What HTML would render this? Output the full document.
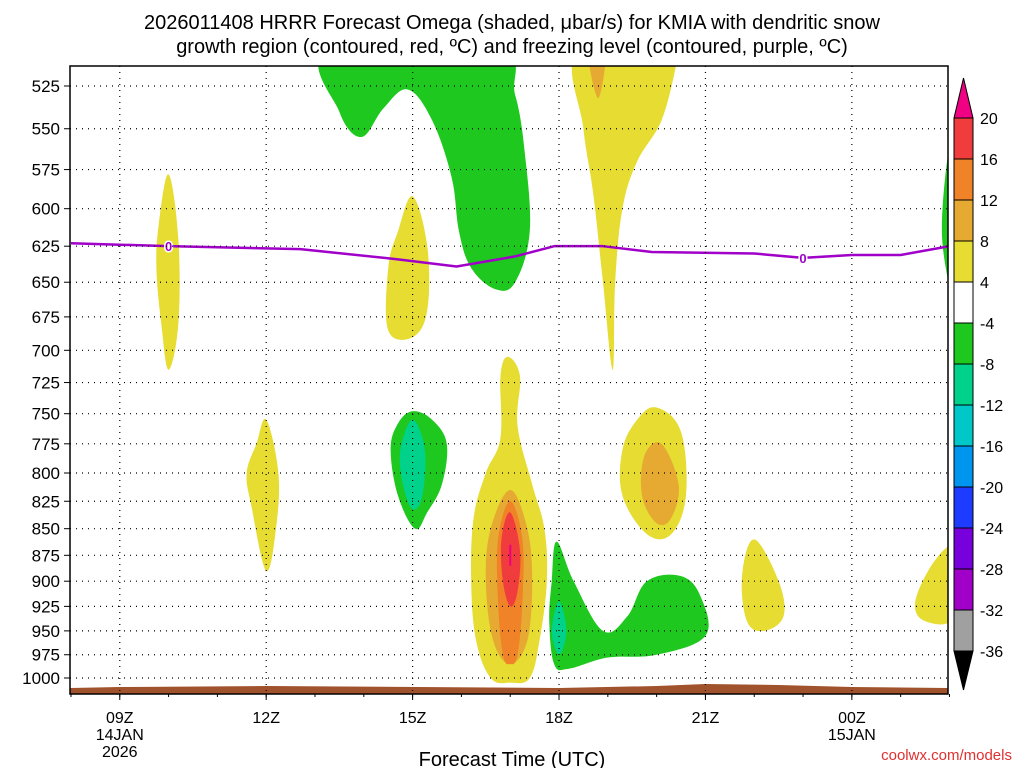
<!DOCTYPE html>
<html><head><meta charset="utf-8"><style>
html,body{margin:0;padding:0;background:#fff}
svg{display:block;font-family:"Liberation Sans",sans-serif}
</style></head><body>
<svg id="c" width="1024" height="768">
<text x="512" y="29" text-anchor="middle" font-size="20">2026011408 HRRR Forecast Omega (shaded, μbar/s) for KMIA with dendritic snow</text>
<text x="512" y="53" text-anchor="middle" font-size="20">growth region (contoured, red, ºC) and freezing level (contoured, purple, ºC)</text>
<g id="plot"></g>
<rect x="70" y="66" width="878" height="628" fill="none" stroke="#000" stroke-width="1.5"/>
<text x="512" y="766" text-anchor="middle" font-size="20">Forecast Time (UTC)</text>
<text x="1012" y="760" text-anchor="end" font-size="15" fill="#e03030">coolwx.com/models</text>
</svg>
<script>
const pressureTicks=[525,550,575,600,625,650,675,700,725,750,775,800,825,850,875,900,925,950,975,1000];
const timeTicks=[1,4,7,10,13,16];
const timeLabels=[["09Z","14JAN","2026"],["12Z"],["15Z"],["18Z"],["21Z"],["00Z","15JAN"]];
const cbLevels=[20,16,12,8,4,-4,-8,-12,-16,-20,-24,-28,-32,-36];
const cbColors=["#f03c3c","#f08228","#e6aa32","#e6dc32","#ffffff","#1ec81e","#00d28c","#00c8c8","#0096f0","#1e3cff","#7800dc","#a000c8","#a0a0a0"];
const freezeHours=[0,2,4.7,6.7,7.9,9.1,9.9,10.9,11.9,14,15,16,17,18];
const freezePress=[623,625,627,634,639,632,625,625,629,630,633,631,631,625];
const freezeLabelHours=[2,15];
const blobs=[
{c:3,n:"yellow-10z",p:[[2.0,578],[2.2,620],[2.2,680],[2.0,715],[1.85,680],[1.75,640],[1.8,610]]},
{c:3,n:"yellow-12z",p:[[4.0,755],[4.25,800],[4.2,850],[4.0,890],[3.7,830],[3.6,800],[3.8,775]]},
{c:3,n:"yellow-15z-upper",p:[[7.0,592],[7.3,625],[7.3,670],[7.0,690],[6.5,685],[6.5,640],[6.7,615]]},
{c:5,n:"green-upper",p:[[5.3,505],[5.5,540],[5.95,555],[6.4,538],[6.9,527],[7.4,545],[7.8,580],[7.95,615],[8.2,640],[8.7,655],[9.1,650],[9.4,615],[9.3,565],[9.1,530],[8.7,505]]},
{c:3,n:"yellow-19z-upper",p:[[10.4,505],[10.5,550],[10.7,590],[10.9,650],[11.1,715],[11.15,650],[11.3,600],[11.6,570],[12.1,545],[12.4,513],[12.4,505]]},
{c:2,n:"gold-19z-top",p:[[10.6,505],[10.95,505],[10.8,532]]},
{c:5,n:"green-15z",p:[[7.0,748],[7.4,755],[7.7,775],[7.6,810],[7.3,835],[7.05,850],[6.7,820],[6.55,780],[6.7,758]]},
{c:6,n:"teal-15z",p:[[7.0,755],[7.25,780],[7.2,820],[7.0,832],[6.8,810],[6.75,780]]},
{c:3,n:"yellow-17z",p:[[8.95,705],[9.2,720],[9.15,760],[9.45,810],[9.7,850],[9.75,900],[9.6,960],[9.4,1000],[9.0,1005],[8.6,1000],[8.3,960],[8.2,900],[8.25,840],[8.5,800],[8.8,770],[8.8,720]]},
{c:2,n:"gold-17z",p:[[9.0,815],[9.35,850],[9.45,900],[9.35,960],[9.0,985],[8.65,960],[8.5,900],[8.6,850]]},
{c:1,n:"orange-17z",p:[[9.0,825],[9.25,860],[9.25,920],[9.15,975],[9.0,985],[8.85,975],[8.75,920],[8.75,860]]},
{c:0,n:"red-17z",p:[[9.0,835],[9.2,870],[9.15,910],[9.0,925],[8.85,900],[8.82,860]]},
{c:5,n:"green-18z-21z",p:[[9.95,862],[10.3,900],[10.9,950],[11.4,935],[11.8,900],[12.5,895],[12.9,915],[13.0,955],[12.0,975],[11.0,978],[10.2,990],[9.9,985],[9.8,940],[9.85,900]]},
{c:6,n:"teal-18z",p:[[10.0,920],[10.15,950],[10.0,975],[9.85,950]]},
{c:3,n:"yellow-20z",p:[[12.0,745],[12.5,765],[12.6,820],[12.3,855],[11.8,855],[11.3,820],[11.3,780],[11.6,755]]},
{c:2,n:"gold-20z",p:[[12.1,775],[12.45,810],[12.3,840],[12.0,845],[11.7,820],[11.75,785]]},
{c:3,n:"yellow-22z",p:[[14.0,860],[14.5,900],[14.6,935],[14.2,950],[13.85,940],[13.75,895]]},
{c:3,n:"yellow-02z",p:[[17.5,940],[17.3,920],[17.7,880],[18.1,870],[18.1,935]]},
{c:5,n:"green-02z",p:[[17.95,570],[18.1,560],[18.1,655],[17.85,620]]}
];
const NS="http://www.w3.org/2000/svg";
const X0=70,X1=948,H0=-0.02,H1=17.97;
function xS(h){return X0+(h-H0)/(H1-H0)*(X1-X0);}
function yS(p){return 86+Math.log(p/525)/Math.log(1000/525)*592;}
const svg=document.getElementById('c'),plot=document.getElementById('plot');
function mk(t,a,par){const e=document.createElementNS(NS,t);for(const k in a)e.setAttribute(k,a[k]);(par||plot).appendChild(e);return e;}
function smooth(pts){
 const n=pts.length;let d='M'+pts[0][0]+','+pts[0][1];
 for(let i=0;i<n;i++){
  const p0=pts[(i-1+n)%n],p1=pts[i],p2=pts[(i+1)%n],p3=pts[(i+2)%n];
  const t=0.18;
  d+=` C${p1[0]+(p2[0]-p0[0])*t},${p1[1]+(p2[1]-p0[1])*t} ${p2[0]-(p3[0]-p1[0])*t},${p2[1]-(p3[1]-p1[1])*t} ${p2[0]},${p2[1]}`;
 }
 return d+'Z';
}
const clip=mk('clipPath',{id:'pc'},svg);mk('rect',{x:70,y:66,width:878,height:628},clip);
const g=mk('g',{'clip-path':'url(#pc)'});
blobs.forEach(b=>{
 const e=mk('path',{d:smooth(b.p.map(q=>[xS(q[0]),yS(q[1])])),fill:cbColors[b.c]},g);
 
 
});
const pk=mk('line',{x1:xS(9),x2:xS(9),y1:yS(865),y2:yS(885),stroke:'#f00082','stroke-width':2},g);


const terr=mk('path',{d:`M70,688 L${xS(1)},687 L${xS(4)},686 L${xS(10)},688 L${xS(12)},686 L${xS(13)},684 L${xS(14.5)},685 L${xS(16)},687 L948,688 L948,694 L70,694Z`,fill:'#a0522d'},g);


pressureTicks.forEach(p=>{
 const y=yS(p);
 const l=mk('line',{x1:70,x2:948,y1:y,y2:y,stroke:'#000','stroke-dasharray':'1,5','stroke-width':1.2});
 
 
 mk('line',{x1:70,x2:64,y1:y,y2:y,stroke:'#000'});
 const t=mk('text',{x:60,y:y+6,'text-anchor':'end','font-size':17});t.textContent=p;
 
 
});
timeTicks.forEach((h,i)=>{
 const x=xS(h);
 const l=mk('line',{x1:x,x2:x,y1:66,y2:694,stroke:'#000','stroke-dasharray':'1,5','stroke-width':1.2});
 
 
 mk('line',{x1:x,x2:x,y1:694,y2:700,stroke:'#000'});
 timeLabels[i].forEach((s,j)=>{const t=mk('text',{x:x,y:723+j*17,'text-anchor':'middle','font-size':16});t.textContent=s;
 
 });
});
for(let h=0;h<=18;h++){const x=xS(h);mk('line',{x1:x,x2:x,y1:694,y2:697,stroke:'#000'});}
const fl=mk('polyline',{points:freezeHours.map((h,i)=>xS(h)+','+yS(freezePress[i])).join(' '),fill:'none',stroke:'#a000c8','stroke-width':2.5,'stroke-linejoin':'round'},g);


freezeLabelHours.forEach(h=>{
 let k=0;while(k<freezeHours.length-2&&freezeHours[k+1]<h)k++;
 const f=(h-freezeHours[k])/(freezeHours[k+1]-freezeHours[k]);
 const p=freezePress[k]+f*(freezePress[k+1]-freezePress[k]);
 const t=mk('text',{x:xS(h),y:yS(p)+5,'text-anchor':'middle','font-size':13,fill:'#a000c8','font-weight':'bold',stroke:'#fff','stroke-width':3,'paint-order':'stroke'},g);t.textContent='0';
 
 
});
const cb=mk('g',{},svg);
const cx=954,cw=19,cy0=118,cs=41;
cbColors.forEach((c,i)=>{mk('rect',{x:cx,y:cy0+i*cs,width:cw,height:cs,fill:c,stroke:'#000','stroke-width':1},cb);});
mk('polygon',{points:`${cx},${cy0} ${cx+cw},${cy0} ${cx+cw/2},78`,fill:'#f00082',stroke:'#000'},cb);
const bot=cy0+cbColors.length*cs;
mk('polygon',{points:`${cx},${bot} ${cx+cw},${bot} ${cx+cw/2},690`,fill:'#000',stroke:'#000'},cb);
cbLevels.forEach((v,i)=>{const t=mk('text',{x:980,y:cy0+i*cs+6,'font-size':16},cb);t.textContent=v;
 
 });
</script>
</body></html>
